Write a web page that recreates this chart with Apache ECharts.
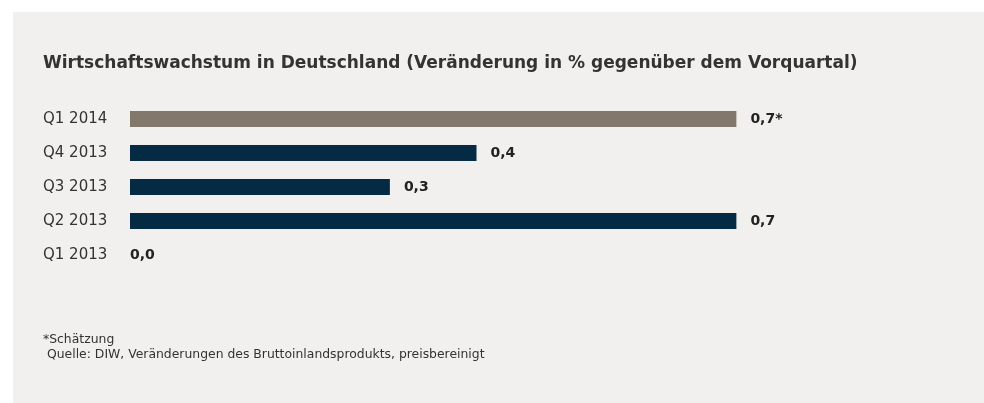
<!DOCTYPE html>
<html>
<head>
<meta charset="utf-8">
<script src="https://cdn.jsdelivr.net/npm/echarts@6/dist/echarts.min.js"></script>
<style>
  html, body { margin: 0; padding: 0; background: #fff; }
  #main { width: 984px; height: 403px; }
</style>
</head>
<body>
<div id="main"></div>
<script>
// Quartale von unten nach oben (ECharts zeichnet Kategorie 0 unten)
const quarters = ['Q1 2013', 'Q2 2013', 'Q3 2013', 'Q4 2013', 'Q1 2014'];
const growth = [0.0, 0.7, 0.3, 0.4, 0.7];
const estimated = [false, false, false, false, true];

const navy = '#042A44';
const taupe = '#83786C';
const font = '"DejaVu Sans", "Noto Sans", sans-serif';

window.onload = function () {
  const myChart = echarts.init(document.getElementById('main'));

  const option = {
    backgroundColor: '#fff',
    animation: false,
    graphic: [
      {
        type: 'rect',
        z: -10,
        shape: { x: 13, y: 12, width: 984, height: 403 },
        style: { fill: '#F1F0EE' }
      },
      {
        type: 'text',
        left: 43,
        top: 334,
        style: { text: '*Schätzung', font: '12.4px ' + font, fill: '#333' }
      },
      {
        type: 'text',
        left: 47,
        top: 349,
        style: { text: 'Quelle: DIW, Veränderungen des Bruttoinlandsprodukts, preisbereinigt', font: '12.4px ' + font, fill: '#333' }
      }
    ],
    title: {
      text: 'Wirtschaftswachstum in Deutschland (Veränderung in % gegenüber dem Vorquartal)',
      left: 38,
      top: 50,
      textStyle: { fontFamily: font, fontSize: 17, fontWeight: 'bold', color: '#333' }
    },
    grid: { left: 130, top: 102, width: 693, height: 170, containLabel: false },
    xAxis: {
      type: 'value',
      min: 0,
      max: 0.8,
      show: false
    },
    yAxis: {
      type: 'category',
      data: quarters,
      axisLine: { show: false },
      axisTick: { show: false },
      splitLine: { show: false },
      axisLabel: {
        align: 'left',
        margin: 87,
        color: '#333',
        fontFamily: font,
        fontSize: 15
      }
    },
    series: [
      {
        type: 'bar',
        barWidth: 16,
        data: growth.map((v, i) => ({
          value: v,
          itemStyle: { color: estimated[i] ? taupe : navy },
          label: { distance: v === 0 ? 0 : 14 }
        })),
        label: {
          show: true,
          position: 'right',
          color: '#222',
          fontFamily: font,
          fontSize: 14,
          fontWeight: 'bold',
          formatter: p => p.value.toFixed(1).replace('.', ',') + (estimated[p.dataIndex] ? '*' : '')
        }
      }
    ]
  };

  myChart.setOption(option, true);
};
</script>
</body>
</html>
